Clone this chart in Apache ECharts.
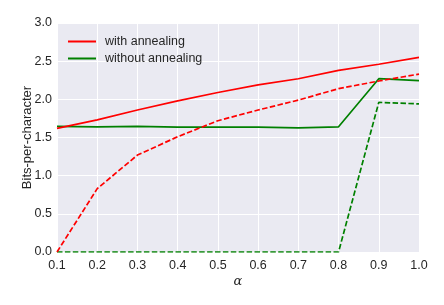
<!DOCTYPE html>
<html><head><meta charset="utf-8">
<script src="https://cdn.jsdelivr.net/npm/echarts@6/dist/echarts.min.js"></script>
<style>html,body{margin:0;padding:0;background:#fff}#c{width:444px;height:305px}</style>
</head><body><div id="c"></div>
<script>
const categories = ['0.1','0.2','0.3','0.4','0.5','0.6','0.7','0.8','0.9','1.0'];
const withAnnealing = [1.62, 1.73, 1.86, 1.98, 2.09, 2.19, 2.27, 2.38, 2.46, 2.55];
const withAnnealingDashed = [0.0, 0.83, 1.27, 1.51, 1.72, 1.86, 1.99, 2.14, 2.24, 2.33];
const withoutAnnealing = [1.645, 1.64, 1.645, 1.635, 1.635, 1.635, 1.627, 1.64, 2.27, 2.245];
const withoutAnnealingDashed = [0, 0, 0, 0, 0, 0, 0, 0, 1.96, 1.94];
const yTicks = [0, 0.5, 1.0, 1.5, 2.0, 2.5, 3.0];

const FONT = 'Liberation Sans, Arial, sans-serif';
const TXT = '#262626';
const chart = echarts.init(document.getElementById('c'), null, {renderer:'canvas'});
const dash = [5.5, 2.4];
const lineIcon = 'path://M0,0H28V2H0Z';
chart.setOption({
  animation: false,
  textStyle: {fontFamily: FONT},
  grid: {left: 57, right: 25, top: 23, bottom: 53, show: true, backgroundColor: '#EAEAF2', borderWidth: 0},
  legend: {
    data: [{name: 'with annealing', icon: lineIcon}, {name: 'without annealing', icon: lineIcon}],
    orient: 'vertical', left: 63, top: 30,
    itemWidth: 28, itemHeight: 2, itemGap: 4,
    textStyle: {fontSize: 12.5, color: TXT, fontFamily: FONT, padding: [0,0,0,4]}
  },
  xAxis: {
    type: 'category', data: categories, boundaryGap: false,
    name: 'α', nameLocation: 'middle', nameGap: 23, nameMoveOverlap: false,
    nameTextStyle: {fontSize: 13, color: TXT, fontStyle: 'italic', fontFamily: 'DejaVu Serif, serif'},
    axisLine: {show: false}, axisTick: {show: false},
    axisLabel: {fontSize: 12.5, color: TXT, margin: 7, fontFamily: FONT},
    splitLine: {show: true, lineStyle: {color: '#fff', width: 1}}
  },
  yAxis: {
    type: 'value', min: yTicks[0], max: yTicks[yTicks.length-1], interval: 0.5,
    name: 'Bits-per-character', nameLocation: 'middle', nameGap: 23, nameMoveOverlap: false,
    nameTextStyle: {fontSize: 13, color: TXT, fontFamily: FONT},
    axisLine: {show: false}, axisTick: {show: false},
    axisLabel: {fontSize: 12.5, color: TXT, margin: 5, fontFamily: FONT, formatter: v => v.toFixed(1)},
    splitLine: {show: true, lineStyle: {color: '#fff', width: 1}}
  },
  series: [
    {name: 'with annealing', type: 'line', data: withAnnealing, symbol: 'none', lineStyle: {color: '#FF0000', width: 1.7}, itemStyle: {color: '#FF0000'}, z: 3},
    {name: 'with annealing (dashed)', type: 'line', data: withAnnealingDashed, symbol: 'none', lineStyle: {color: '#FF0000', width: 1.7, type: dash}, itemStyle: {color: '#FF0000'}, z: 3},
    {name: 'without annealing', type: 'line', data: withoutAnnealing, symbol: 'none', lineStyle: {color: '#008000', width: 1.7}, itemStyle: {color: '#008000'}, z: 2},
    {name: 'without annealing (dashed)', type: 'line', data: withoutAnnealingDashed, symbol: 'none', lineStyle: {color: '#008000', width: 1.7, type: dash}, itemStyle: {color: '#008000'}, z: 2}
  ]
});
</script></body></html>
